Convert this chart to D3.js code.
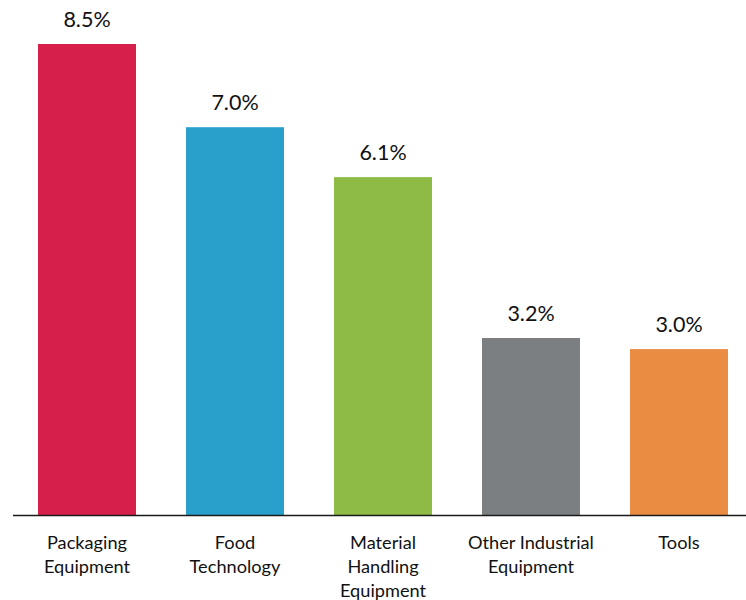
<!DOCTYPE html>
<html><head><meta charset="utf-8">
<script src="https://cdn.jsdelivr.net/npm/d3@7"></script>
<style>body{margin:0;background:#fff}svg{display:block}text{font-family:Lato,"Open Sans",sans-serif;fill:#111}</style>
</head><body>
<svg id="c" width="746" height="600"></svg>
<script>
const categories = [["Packaging","Equipment"],["Food","Technology"],["Material","Handling","Equipment"],["Other Industrial","Equipment"],["Tools"]];
const values = [8.5, 7.0, 6.1, 3.2, 3.0];
const colors = ["#D61F4A","#29A0CB","#8DBB45","#7C7F82","#EA8C42"];

const svg = d3.select("#c");
const base = 515.5;
const x = d3.scaleBand().domain(d3.range(values.length)).range([13, 753]).paddingInner(0.338).paddingOuter(0.169);
const y = d3.scaleLinear().domain([0, 8.5]).range([base, 44]);

svg.selectAll("rect.bar").data(values).join("rect")
  .attr("x", (d,i) => x(i)).attr("width", x.bandwidth())
  .attr("y", d => y(d)).attr("height", d => base - y(d))
  .attr("fill", (d,i) => colors[i]);

svg.append("line").attr("x1", 13).attr("x2", 746).attr("y1", base).attr("y2", base)
  .attr("stroke", "#1a1a1a").attr("stroke-width", 1.5);

svg.selectAll("text.val").data(values).join("text")
  .attr("x", (d,i) => x(i) + x.bandwidth()/2).attr("y", d => y(d) - 17)
  .attr("text-anchor", "middle").attr("font-size", 21.5)
  .text(d => d.toFixed(1) + "%");

const lab = svg.selectAll("g.lab").data(categories).join("g")
  .attr("transform", (d,i) => `translate(${x(i) + x.bandwidth()/2},0)`);
lab.selectAll("text").data(d => d).join("text")
  .attr("text-anchor", "middle").attr("font-size", 18.2)
  .attr("y", (d,j) => 549 + j*24)
  .text(d => d);
</script>
</body></html>
